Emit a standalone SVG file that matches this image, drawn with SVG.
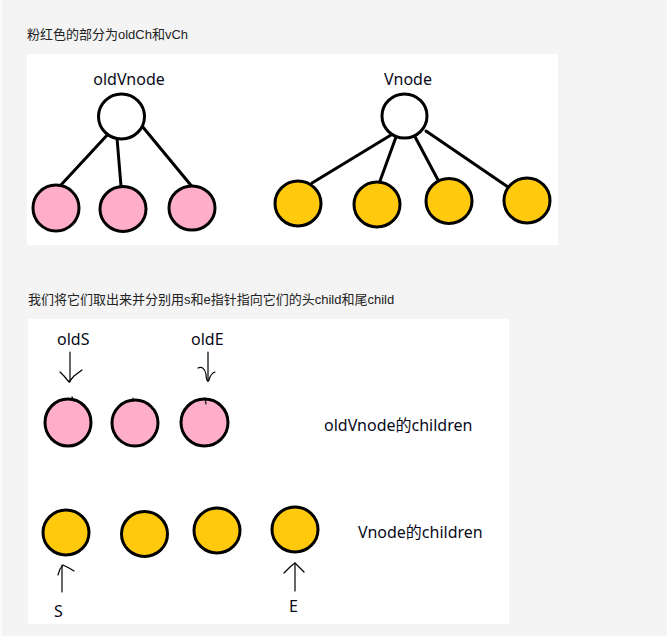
<svg xmlns="http://www.w3.org/2000/svg" width="667" height="636" viewBox="0 0 667 636">
<style>
.panel{fill:#ffffff}
.hdr{font-family:"Liberation Sans","Noto Sans CJK SC",sans-serif;font-size:13px;fill:#222}
.lbl{font-family:"Noto Sans","Noto Sans CJK SC",sans-serif;font-size:16px;fill:#0a0a1a}
.root{fill:#ffffff;stroke:#000;stroke-width:3}
.pink{fill:#ffaec9;stroke:#000;stroke-width:3}
.gold{fill:#ffc90e;stroke:#000;stroke-width:3}
.edge{stroke:#000;stroke-width:3;fill:none;stroke-linecap:round}
.ptr{stroke:#000;stroke-width:1.2;fill:none;stroke-linecap:round;stroke-linejoin:round}
</style>
<rect x="0" y="0" width="667" height="636" fill="#f4f4f4"/>
<rect x="0" y="0" width="2" height="636" fill="#fbfbfb"/>
<rect class="panel" x="27" y="54" width="531" height="191"/>
<rect class="panel" x="28" y="319" width="481" height="305"/>
<text class="hdr" x="27" y="39">粉红色的部分为oldCh和vCh</text>
<text class="hdr" x="28" y="304">我们将它们取出来并分别用s和e指针指向它们的头child和尾child</text>

<g id="connectors">
<line class="edge" x1="110" y1="132" x2="60" y2="186"/>
<line class="edge" x1="117" y1="138" x2="121" y2="186"/>
<line class="edge" x1="142" y1="126" x2="194" y2="189"/>
<line class="edge" x1="391" y1="135" x2="312" y2="183"/>
<line class="edge" x1="396" y1="137" x2="380" y2="181"/>
<line class="edge" x1="413" y1="133" x2="438" y2="180"/>
<line class="edge" x1="426" y1="131" x2="508" y2="187"/>
<g id="ptr-oldS">
<line class="ptr" x1="70" y1="352" x2="70" y2="382"/>
<polyline class="ptr" points="60,372 64,376 69,382 74,376 82,370"/>
</g>
<g id="ptr-oldE">
<line class="ptr" x1="208" y1="352" x2="208" y2="381"/>
<path class="ptr" d="M198,368 C202,366 205,369 206,374 C206,380 208,383 209,380 C210,376 212,373 215,372"/>
</g>
<g id="ptr-S">
<line class="ptr" x1="62" y1="592" x2="62" y2="565"/>
<polyline class="ptr" points="58,575 60,569 63,565 69,568 74,571"/>
</g>
<g id="ptr-E">
<line class="ptr" x1="295" y1="591" x2="295" y2="563"/>
<polyline class="ptr" points="284,573 290,567 295,563 300,568 304,572"/>
</g>
</g>

<g id="oldVnode">
<text class="lbl" x="129" y="85" text-anchor="middle">oldVnode</text>
<ellipse class="root" cx="121.5" cy="116.5" rx="23" ry="22.5"/>
</g>
<g id="oldCh1"><ellipse class="pink" cx="56" cy="208" rx="23" ry="23"/></g>
<g id="oldCh2"><ellipse class="pink" cx="123" cy="209" rx="23" ry="22.5"/></g>
<g id="oldCh3"><ellipse class="pink" cx="192" cy="208" rx="23" ry="22"/></g>

<g id="Vnode">
<text class="lbl" x="408" y="85" text-anchor="middle">Vnode</text>
<ellipse class="root" cx="404.5" cy="116" rx="22.5" ry="22"/>
</g>
<g id="vCh1"><ellipse class="gold" cx="298" cy="203.5" rx="23" ry="22.5"/></g>
<g id="vCh2"><ellipse class="gold" cx="377" cy="204.5" rx="23" ry="22.5"/></g>
<g id="vCh3"><ellipse class="gold" cx="449" cy="201" rx="23" ry="22.5"/></g>
<g id="vCh4"><ellipse class="gold" cx="527" cy="200.5" rx="23" ry="22.5"/></g>

<g id="label-oldS"><text class="lbl" x="57" y="345">oldS</text></g>
<g id="label-oldE"><text class="lbl" x="191" y="345">oldE</text></g>
<g id="old1"><ellipse class="pink" cx="68" cy="422.5" rx="23" ry="23.5"/><line class="ptr" x1="72" y1="397" x2="74" y2="401" stroke-width="2"/></g>
<g id="old2"><ellipse class="pink" cx="135" cy="423" rx="23" ry="23"/><line class="ptr" x1="133" y1="398" x2="133" y2="401" stroke-width="2"/></g>
<g id="old3"><ellipse class="pink" cx="204.5" cy="422.5" rx="23.5" ry="23.5"/><line class="ptr" x1="205" y1="398" x2="206" y2="404" stroke-width="2"/></g>
<g id="label-oldChildren"><text class="lbl" x="324" y="431">oldVnode的children</text></g>

<g id="new1"><ellipse class="gold" cx="66" cy="532.5" rx="23" ry="22.5"/></g>
<g id="new2"><ellipse class="gold" cx="144.5" cy="534" rx="23" ry="22.5"/></g>
<g id="new3"><ellipse class="gold" cx="217" cy="530.5" rx="23" ry="22.5"/></g>
<g id="new4"><ellipse class="gold" cx="295" cy="529.5" rx="23" ry="22.5"/></g>
<g id="label-vChildren"><text class="lbl" x="358" y="538">Vnode的children</text></g>
<g id="label-S"><text class="lbl" x="54" y="617">S</text></g>
<g id="label-E"><text class="lbl" x="289" y="612">E</text></g>
</svg>
